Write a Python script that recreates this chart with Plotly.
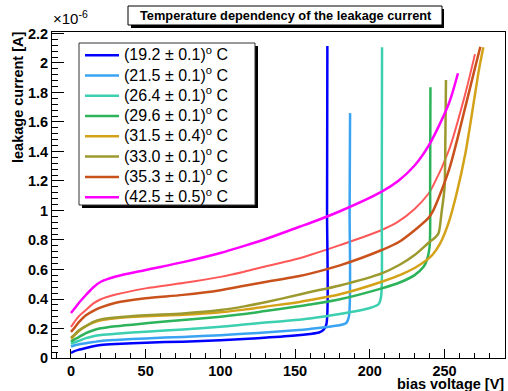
import plotly.graph_objects as go

# ---------------- data (current in units of 1e-6 A) ----------------
labels = ["(19.2 ± 0.1)<sup>o</sup> C", "(21.5 ± 0.1)<sup>o</sup> C", "(26.4 ± 0.1)<sup>o</sup> C",
          "(29.6 ± 0.1)<sup>o</sup> C", "(31.5 ± 0.4)<sup>o</sup> C", "(33.0 ± 0.1)<sup>o</sup> C",
          "(35.3 ± 0.1)<sup>o</sup> C", "(42.5 ± 0.5)<sup>o</sup> C"]
colors = ["#0000ff", "#3aa3f2", "#3ccfb0", "#2db35a", "#d4a219", "#9c9a2e", "#c9521c", "#ff00ff"]

v_192 = [0, 2, 5, 10, 15, 20, 30, 50, 75, 100, 125, 150, 160, 166, 169, 171, 171.4, 171.6]
i_192 = [0.034, 0.045, 0.055, 0.068, 0.080, 0.088, 0.095, 0.104, 0.111, 0.120, 0.134, 0.152, 0.163, 0.173, 0.190, 0.23, 1.0, 2.115]

v_215 = [0, 2, 5, 10, 15, 20, 30, 50, 75, 100, 125, 150, 160, 175, 184, 186, 186.5, 186.8]
i_215 = [0.077, 0.085, 0.092, 0.100, 0.108, 0.115, 0.122, 0.133, 0.143, 0.155, 0.170, 0.188, 0.197, 0.215, 0.235, 0.28, 1.0, 1.66]

v_264 = [0, 2, 5, 10, 15, 20, 30, 50, 75, 100, 116, 130, 150, 160, 180, 200, 206, 207.6, 208, 208.2]
i_264 = [0.095, 0.105, 0.115, 0.135, 0.148, 0.156, 0.165, 0.178, 0.194, 0.212, 0.227, 0.240, 0.257, 0.268, 0.298, 0.339, 0.366, 0.42, 1.0, 2.107]

v_296 = [0, 2, 5, 10, 15, 20, 30, 50, 75, 100, 116, 130, 150, 160, 180, 208, 220, 230, 236, 238.2, 240, 240.4, 240.6]
i_296 = [0.110, 0.125, 0.140, 0.169, 0.188, 0.201, 0.215, 0.235, 0.258, 0.280, 0.298, 0.318, 0.347, 0.362, 0.398, 0.472, 0.512, 0.562, 0.618, 0.664, 0.75, 1.2, 1.835]

v_315 = [0, 2, 5, 10, 15, 20, 30, 50, 75, 100, 116, 130, 153, 160, 180, 208, 220, 230, 239, 242, 247, 253, 258, 264, 270, 273, 276]
i_315 = [0.130, 0.150, 0.180, 0.215, 0.240, 0.255, 0.270, 0.283, 0.293, 0.310, 0.328, 0.348, 0.380, 0.393, 0.432, 0.517, 0.562, 0.610, 0.672, 0.700, 0.775, 0.925, 1.110, 1.388, 1.760, 1.950, 2.106]

v_330 = [0, 2, 5, 10, 15, 20, 30, 50, 75, 100, 116, 130, 153, 160, 180, 208, 220, 230, 239, 244, 246, 248.2, 250, 250.6, 251]
i_330 = [0.138, 0.155, 0.185, 0.217, 0.245, 0.262, 0.275, 0.290, 0.302, 0.325, 0.350, 0.378, 0.430, 0.447, 0.492, 0.574, 0.632, 0.698, 0.778, 0.820, 0.845, 1.000, 1.15, 1.5, 1.885]

v_353 = [0, 2, 5, 10, 15, 20, 30, 50, 75, 100, 116, 130, 153, 160, 180, 208, 220, 239, 242, 253, 264, 270, 274]
i_353 = [0.177, 0.200, 0.240, 0.290, 0.320, 0.343, 0.375, 0.405, 0.428, 0.460, 0.490, 0.515, 0.556, 0.572, 0.628, 0.732, 0.790, 0.947, 0.990, 1.275, 1.704, 1.950, 2.110]

v_425 = [0, 2, 5, 10, 15, 20, 30, 50, 75, 100, 116, 130, 153, 160, 180, 208, 219, 230, 240, 253, 259]
i_425 = [0.305, 0.330, 0.370, 0.427, 0.480, 0.517, 0.552, 0.597, 0.650, 0.712, 0.760, 0.805, 0.890, 0.915, 0.995, 1.128, 1.200, 1.305, 1.450, 1.727, 1.930]

# unlabelled extra (red) run
v_red = [0, 2, 5, 10, 15, 20, 30, 50, 75, 100, 116, 130, 153, 160, 180, 208, 219, 230, 239, 242, 253, 264, 270.4]
i_red = [0.210, 0.240, 0.280, 0.325, 0.370, 0.398, 0.430, 0.472, 0.508, 0.550, 0.585, 0.620, 0.676, 0.698, 0.765, 0.868, 0.924, 1.010, 1.110, 1.160, 1.410, 1.795, 2.060]

series_v = [v_192, v_215, v_264, v_296, v_315, v_330, v_353, v_425]
series_i = [i_192, i_215, i_264, i_296, i_315, i_330, i_353, i_425]

x_ticks = [0, 50, 100, 150, 200, 250]
y_ticks = [0, 0.2, 0.4, 0.6, 0.8, 1, 1.2, 1.4, 1.6, 1.8, 2, 2.2]
y_ticklabels = ["0", "0.2", "0.4", "0.6", "0.8", "1", "1.2", "1.4", "1.6", "1.8", "2", "2.2"]

# ---------------- figure ----------------
W, H = 508, 391
L, R, T, B = 52, 3, 32, 33
pw, ph = W - L - R, H - T - B

def PX(px):
    return (px - L) / pw

def PY(py):
    return (H - B - py) / ph

fig = go.Figure()

fig.add_trace(go.Scatter(x=v_red, y=i_red, mode="lines",
                         line=dict(color="#ff3b3b", width=2, shape="spline", smoothing=0.8),
                         opacity=0.85, showlegend=False, hoverinfo="skip"))
for v, i, lab, c in zip(series_v, series_i, labels, colors):
    fig.add_trace(go.Scatter(x=v, y=i, mode="lines",
                             name="<span style='font-size:16px'>" + lab + "</span>",
                             line=dict(color=c, width=2.5, shape="spline", smoothing=0.8)))

font_family = "Liberation Sans, Arial, Helvetica, sans-serif"

fig.update_layout(
    width=W, height=H,
    margin=dict(l=L, r=R, t=T, b=B, pad=0, autoexpand=False),
    paper_bgcolor="white", plot_bgcolor="white",
    font=dict(family=font_family, color="black"),
    showlegend=True,
    legend=dict(x=PX(80), y=PY(40), xanchor="left", yanchor="top",
                bgcolor="rgba(0,0,0,0)", borderwidth=0,
                font=dict(size=13.3, family=font_family, color="black"),
                itemwidth=34, tracegroupgap=0, traceorder="normal"),
    xaxis=dict(range=[-12.7, 290.5], showgrid=False, zeroline=False, automargin=False,
               showline=True, linecolor="black", linewidth=1, mirror=True,
               ticks="inside", ticklen=9, tickwidth=1, tickcolor="black",
               tickvals=x_ticks,
               tickfont=dict(size=14.5, family=font_family, weight="bold"),
               minor=dict(dtick=10, tick0=0, ticks="inside", ticklen=5, tickcolor="black")),
    yaxis=dict(range=[0, 2.21], showgrid=False, zeroline=False, automargin=False,
               showline=True, linecolor="black", linewidth=1, mirror=True,
               ticks="inside", ticklen=12, tickwidth=1, tickcolor="black",
               tickvals=y_ticks, ticktext=y_ticklabels,
               tickfont=dict(size=14.5, family=font_family, weight="bold"),
               minor=dict(dtick=0.04, tick0=0, ticks="inside", ticklen=6, tickcolor="black")),
)

shapes = [
    # title box shadow + box
    dict(type="rect", xref="paper", yref="paper", x0=PX(131), x1=PX(444), y0=PY(9), y1=PY(28),
         fillcolor="black", line=dict(width=0), layer="above"),
    dict(type="rect", xref="paper", yref="paper", x0=PX(128), x1=PX(442), y0=PY(6), y1=PY(25),
         fillcolor="white", line=dict(color="black", width=1), layer="above"),
    # legend shadow + box
    dict(type="rect", xref="paper", yref="paper", x0=PX(82), x1=PX(258), y0=PY(46), y1=PY(208),
         fillcolor="black", line=dict(width=0), layer="above"),
    dict(type="rect", xref="paper", yref="paper", x0=PX(79), x1=PX(255), y0=PY(43), y1=PY(205),
         fillcolor="white", line=dict(color="#333333", width=1), layer="above"),
]
fig.update_layout(shapes=shapes)

annotations = [
    dict(text="<b>Temperature dependency of the leakage current</b>", xref="paper", yref="paper",
         x=PX(286), y=PY(15.5), xanchor="center", yanchor="middle", showarrow=False,
         font=dict(size=12.8, family=font_family)),
    dict(text="<b>leakage current [A]</b>", xref="paper", yref="paper", textangle=-90,
         x=PX(18), y=PY(29), xanchor="center", yanchor="top", showarrow=False,
         font=dict(size=14.5, family=font_family)),
    dict(text="<b>bias voltage [V]</b>", xref="paper", yref="paper",
         x=PX(506), y=PY(384), xanchor="right", yanchor="middle", showarrow=False,
         font=dict(size=14.5, family=font_family)),
    dict(text="×10<sup>-6</sup>", xref="paper", yref="paper",
         x=PX(51), y=PY(29), xanchor="left", yanchor="bottom", showarrow=False,
         font=dict(size=15, family=font_family)),
]
fig.update_layout(annotations=annotations)

fig.write_html("out.html",
               config={"displayModeBar": False, "staticPlot": False},
               post_script="document.body.style.margin='0';document.body.style.overflow='hidden';")
